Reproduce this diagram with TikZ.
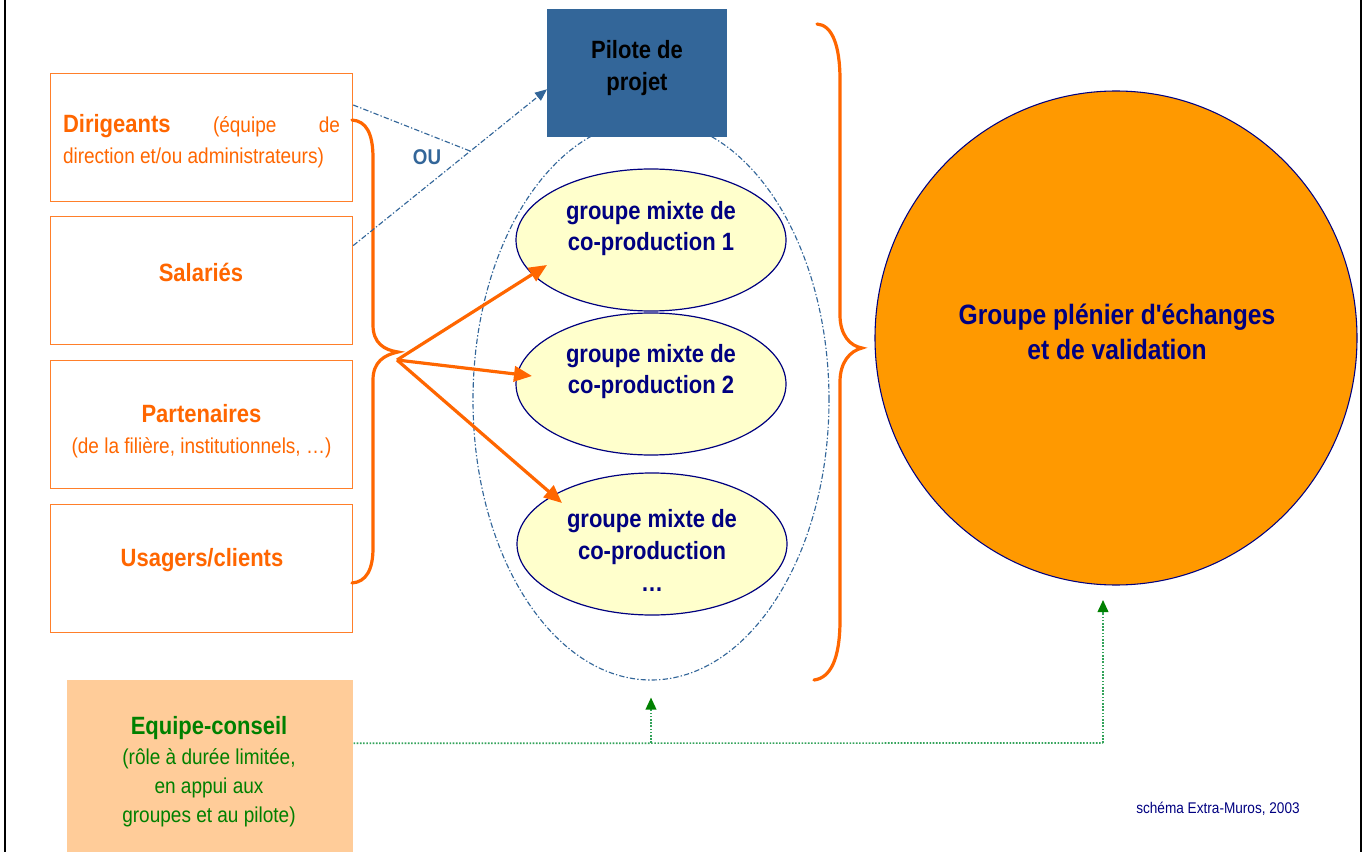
\documentclass[tikz,border=0pt]{standalone}
\usepackage{fontspec}
\setmainfont{Liberation Sans}[FakeStretch=0.88, Ligatures=TeXOff]
\usetikzlibrary{shapes.geometric,arrows.meta}
\definecolor{orng}{HTML}{FF6600}
\definecolor{orbox}{HTML}{FF7F2A}
\definecolor{navy}{HTML}{000080}
\definecolor{steel}{HTML}{336699}
\definecolor{pale}{HTML}{FFFFCC}
\definecolor{amber}{HTML}{FF9900}
\definecolor{peach}{HTML}{FFCC99}
\definecolor{grn}{HTML}{008000}
\definecolor{grndot}{HTML}{33A35A}
\newcommand\pxu{0.75pt}
\newcommand\szA{\fontsize{18.75pt}{23.25pt}\selectfont}
\newcommand\szB{\fontsize{16.2pt}{23.25pt}\selectfont}
\newcommand\szC{\fontsize{21pt}{26.25pt}\selectfont}
\tikzset{
  obox/.style={draw=orbox, line width=0.9pt, minimum width=302*\pxu, minimum height=128*\pxu, anchor=north west, inner sep=0pt},
  otext/.style={text=orng, align=center, font=\szB, inner sep=0pt},
  brace/.style={draw=orng, line width=2.4pt, line cap=round},
  oarrow/.style={draw=orng, line width=2.4pt, -{Triangle[length=13.5pt,width=11.5pt]}},
  bdash/.style={draw=steel, line width=0.85pt, dash pattern=on 4pt off 1.6pt on 1pt off 1.6pt},
  gdot/.style={draw=grndot, line width=1.25pt, dash pattern=on 1.2pt off 1.2pt},
  garrow/.style={gdot, -{Triangle[length=9pt,width=8pt,color=grn]}},
  grpell/.style={ellipse, draw=navy, line width=0.9pt, fill=pale, minimum width=270*\pxu, minimum height=142*\pxu, inner sep=0pt},
  etext/.style={text=navy, align=center, font=\szA\bfseries, inner sep=0pt}
}
\begin{document}
\begin{tikzpicture}[x=0.75pt,y=-0.75pt]
\useasboundingbox (0,0) rectangle (1367,852);
% page borders
\draw[line width=1.5pt] (5,0) -- (5,852);
\draw[line width=1.5pt] (1361,0) -- (1361,852);

% left boxes
\node[obox] (dir) at (50,73) {};
\node[obox] (sal) at (50,216) {};
\node[obox] (par) at (50,360) {};
\node[obox] (usa) at (50,504) {};

\node[otext, text width=277*\pxu, align=justify] (dirt) at (201.5,141)
  {{\szA\bfseries Dirigeants} (équipe de\linebreak direction et/ou administrateurs)};
\node[otext, font=\szA\bfseries] (salt) at (201,272) {Salariés};
\node[otext] (part) at (201.5,431) {{\szA\bfseries Partenaires}\\(de la filière, institutionnels, …)};
\node[otext, font=\szA\bfseries] (usat) at (202,560) {Usagers/clients};

% group ellipses
\node[grpell] (e1) at (651,240) {};
\node[grpell] (e2) at (651,384) {};
\node[grpell] (e3) at (652,544) {};
\node[etext] (e1t) at (651,229) {groupe mixte de\\co-production 1};
\node[etext] (e2t) at (651,372) {groupe mixte de\\co-production 2};
\node[etext, font=\fontsize{18.75pt}{24pt}\selectfont\bfseries] (e3t) at (652,550) {groupe mixte de\\co-production\\…};

% dashed grouping ellipse
\node[ellipse, bdash, minimum width=356*\pxu, minimum height=560*\pxu, inner sep=0pt] (grp) at (651,400) {};

% pilote
\node[fill=steel, minimum width=180*\pxu, minimum height=128*\pxu, anchor=north west, inner sep=0pt] (pil) at (547,9) {};
\node[text=black, align=center, font=\fontsize{18.75pt}{24pt}\selectfont\bfseries, inner sep=0pt] (pilt) at (637,68) {Pilote de\\projet};

% big plenary circle
\node[ellipse, draw=navy, line width=0.8pt, fill=amber, minimum width=482*\pxu, minimum height=494*\pxu, inner sep=0pt] (big) at (1116,338) {};
\node[text=navy, align=center, font=\szC\bfseries, inner sep=0pt] (bigt) at (1117,332) {Groupe plénier d'échanges\\et de validation};

% braces
\draw[brace] (352,120) .. controls (366,121) and (373,133) .. (373,158) -- (373,325)
  .. controls (373,343) and (384,350) .. (398,352)
  .. controls (384,355) and (373,362) .. (373,380) -- (373,548)
  .. controls (373,570) and (366,582) .. (352,583);
\draw[brace] (817,24) .. controls (832,25) and (840,45) .. (840,80) -- (840,315)
  .. controls (840,335) and (850,346) .. (862,348)
  .. controls (850,351) and (840,362) .. (840,382) -- (840,620)
  .. controls (840,660) and (830,678) .. (814,680);

% orange arrows
\coordinate (src) at (397,360);
\coordinate (t1) at (547,265);
\coordinate (t2) at (532,376);
\coordinate (t3) at (562,503);
\draw[oarrow] (src) -- (t1);
\draw[oarrow] (src) -- (t2);
\draw[oarrow] (src) -- (t3);

% blue dashed connectors
\coordinate (meet) at (470,151);
\draw[bdash] ([yshift=-32*\pxu]dir.north east) -- (meet);
\draw[bdash, -{Triangle[length=9pt,width=7.5pt,color=steel]}] ([yshift=35*\pxu]sal.east) -- ([yshift=-16*\pxu]pil.west);
\node[text=steel, font=\fontsize{16pt}{18pt}\selectfont\bfseries, inner sep=0pt] (ou) at (427,157) {OU};

% equipe-conseil
\node[fill=peach, minimum width=286*\pxu, minimum height=172*\pxu, anchor=north west, inner sep=0pt] (eq) at (67,680) {};
\node[text=grn, align=center, font=\fontsize{16.2pt}{22pt}\selectfont, inner sep=0pt] (eqt) at (209,772)
  {{\szA\bfseries Equipe-conseil}\\(rôle à durée limitée,\\en appui aux\\groupes et au pilote)};

\coordinate (j1) at (651,743);
\coordinate (j2) at (1103,743);
\coordinate (bigtip) at (1103,600);
\draw[gdot] ([yshift=23*\pxu]eq.east) -- (j2);
\draw[garrow] (j1) -- ([yshift=-17*\pxu]grp.south);
\draw[garrow] (j2) -- (bigtip);

% credit
\node[text=navy, font=\fontsize{11.6pt}{14pt}\selectfont, inner sep=0pt] (cred) at (1218,809) {schéma Extra-Muros, 2003};
\end{tikzpicture}
\end{document}
